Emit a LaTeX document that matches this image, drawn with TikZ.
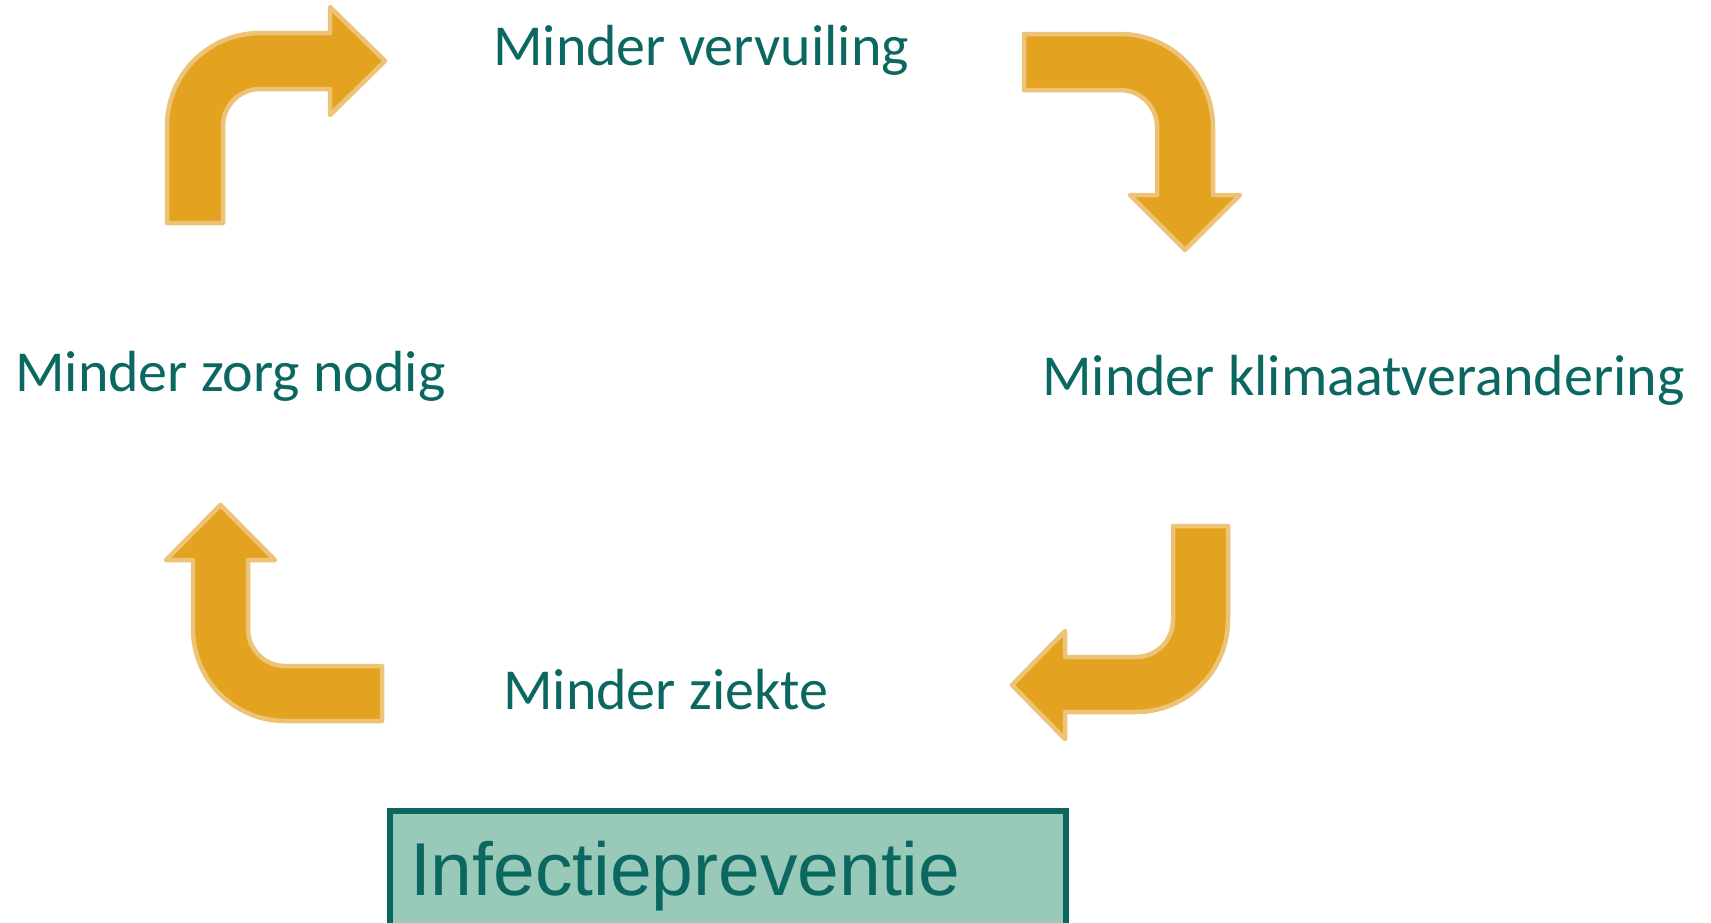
\documentclass[tikz,border=0pt]{standalone}
\usepackage{fontspec}
\setmainfont{Carlito}
\newfontfamily\arialfont{Liberation Sans}
\definecolor{ipgoud}{RGB}{227,163,33}
\definecolor{iprand}{RGB}{237,196,119}
\definecolor{ipgroen}{RGB}{11,104,96}
\definecolor{ipmint}{RGB}{153,201,185}

\begin{document}
\begin{tikzpicture}[x=1pt,y=-1pt,
  pijl/.style={fill=ipgoud, draw=iprand, line width=4.5pt, line join=round},
  tekst/.style={text=ipgroen, font=\fontsize{58}{70}\selectfont, inner sep=0pt, anchor=base west},
  kader/.style={rectangle, draw=ipgroen, fill=ipmint, line width=6pt, outer sep=0pt, inner xsep=20pt, inner ysep=30pt, text width=636pt, align=left, text height=54pt, text depth=16pt, text=ipgroen, font=\arialfont\fontsize{75}{88}\selectfont, anchor=base west}]
\useasboundingbox (0,0) rectangle (1711,922);
\clip (0,0) rectangle (1711,922);

% de vier gebogen pijlen
\filldraw[pijl] (167,223) -- (167,126) .. controls (167,74.6) and (208.6,33) .. (260,33) -- (330,33) -- (330,7) -- (385,61) -- (330,115) -- (330,89) -- (260,89) .. controls (239.6,89) and (223,105.6) .. (223,126) -- (223,223) -- cycle;
\filldraw[pijl] (1024,34) -- (1120,34) .. controls (1171.4,34) and (1213,75.6) .. (1213,127) -- (1213,195) -- (1240,195) -- (1185,250) -- (1130,195) -- (1157,195) -- (1157,127) .. controls (1157,106.6) and (1140.4,90) .. (1120,90) -- (1024,90) -- cycle;
\filldraw[pijl] (1228,526) -- (1228,620) .. controls (1228,670.8) and (1186.8,712) .. (1136,712) -- (1065,712) -- (1065,739) -- (1012,685) -- (1065,631) -- (1065,657) -- (1136,657) .. controls (1156.4,657) and (1173,640.4) .. (1173,620) -- (1173,526) -- cycle;
\filldraw[pijl] (382,721) -- (285,721) .. controls (234.2,721) and (193,679.8) .. (193,629) -- (193,560) -- (166,560) -- (220.5,505) -- (275,560) -- (248,560) -- (248,629) .. controls (248,649.4) and (264.6,666) .. (285,666) -- (382,666) -- cycle;

\draw (493,65) node[tekst] (vervuiling) {Minder vervuiling};
\draw (1042,395) node[tekst] (klimaat) {Minder klimaatverandering};
\draw (503,709) node[tekst] (ziekte) {Minder ziekte};
\draw (15,391) node[tekst] (zorg) {Minder zorg nodig};
\draw (390,895) node[kader] (preventie) {Infectiepreventie};
\end{tikzpicture}
\end{document}
